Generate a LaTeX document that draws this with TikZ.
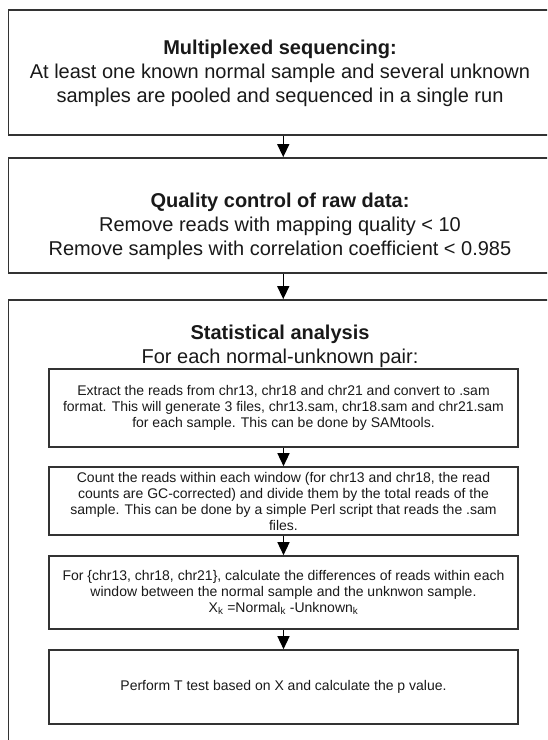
\documentclass[tikz,border=0pt]{standalone}
\usepackage{fontspec}
\setmainfont{Liberation Sans}
\usetikzlibrary{positioning,arrows.meta}

\begin{document}
\begin{tikzpicture}[
    x=1pt, y=1pt,
    every node/.style={text=black!90, inner sep=2pt},
    outer box/.style={draw=black!80, line width=1.8pt, minimum width=549.5pt},
    inner box/.style={draw=black!80, line width=1.6pt, minimum width=469pt, align=center, font=\fontsize{14}{16}\selectfont},
    big text/.style={align=center, font=\fontsize{20}{24}\selectfont},
    flow/.style={-{Triangle[width=12pt,length=13pt]}, line width=1.4pt, draw=black}
]
    \useasboundingbox (0,0) rectangle (547,-740);
    \clip (0,0) rectangle (547,-740);

    \node [outer box, minimum height=125pt] (seq) at (283.25,-72.5) {};
    \node [outer box, minimum height=115pt] (qc) at (283.25,-215.5) {};
    \node [outer box, minimum height=460pt] (stat) at (283.25,-530) {};

    \node [big text] (seqtext) at (280,-73) {{\bfseries Multiplexed sequencing:}\\At least one known normal sample and several unknown\\samples are pooled and sequenced in a single run};
    \node [big text] (qctext) at (280,-226) {{\bfseries Quality control of raw data:}\\Remove reads with mapping quality < 10\\Remove samples with correlation coefficient < 0.985};
    \node [big text] (stattext) at (280,-346) {{\bfseries Statistical analysis}\\For each normal-unknown pair:};

    \node [inner box, minimum height=78pt] (extract) at (283.5,-408) {Extract the reads from chr13, chr18 and chr21 and convert to .sam\\format. This will generate 3 files, chr13.sam, chr18.sam and chr21.sam\\for each sample. This can be done by SAMtools.};
    \node [inner box, minimum height=68pt] (count) at (283.5,-501) {Count the reads within each window (for chr13 and chr18, the read\\counts are GC-corrected) and divide them by the total reads of the\\sample. This can be done by a simple Perl script that reads the .sam\\files.};
    \node [inner box, minimum height=73pt] (diff) at (283.5,-592.5) {For \{chr13, chr18, chr21\}, calculate the differences of reads within each\\window between the normal sample and the unknwon sample.\\X\textsubscript{k} =Normal\textsubscript{k} -Unknown\textsubscript{k}};
    \node [inner box, minimum height=74pt] (ttest) at (283.5,-687) {Perform T test based on X and calculate the p value.};

    \draw [flow] (seq) -- (qc);
    \draw [flow] (qc) -- (stat);
    \draw [flow] (extract) -- (count);
    \draw [flow] (count) -- (diff);
    \draw [flow] (diff) -- (ttest);
\end{tikzpicture}
\end{document}
